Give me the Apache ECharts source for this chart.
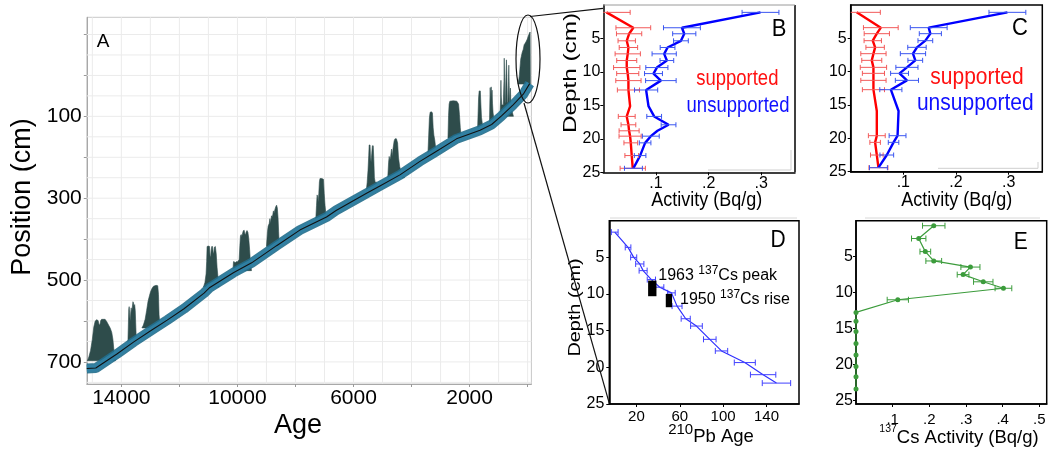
<!DOCTYPE html>
<html><head><meta charset="utf-8">
<script src="https://cdn.jsdelivr.net/npm/echarts@6/dist/echarts.min.js"></script>
<style>html,body{margin:0;padding:0;background:#fff}#c{width:1052px;height:450px}</style>
</head><body><div id="c"></div>
<script>
const FONT = '"Liberation Sans", Arial, Helvetica, sans-serif';

// ---------- Panel A : age-depth model ----------
const ageGridLines = [0,1000,2000,3000,4000,5000,6000,7000,8000,9000,10000,11000,12000,13000,14000,15000];
const posGridLines = [-100,-50,0,50,100,150,200,250,300,350,400,450,500,550,600,650,700,750];
const ageTicks = [14000,12000,10000,8000,6000,4000,2000,0];
const ageLabels = [14000,10000,6000,2000];
const posTicks = [-100,0,100,200,300,400,500,600,700];
const posLabels = [100,300,500,700];
const ageModel = [[15190,716],[14880,715],[14140,680],[13570,651],[12990,624],[12420,598],[11840,570],[11150,532],[10950,518],[10140,482],[9510,458],[8650,416],[7850,378],[6930,346],[6600,330],[5550,288],[5090,270],[4400,243],[3710,210],[3250,190],[2450,155],[1640,134],[1240,120],[900,99],[500,72],[150,46],[-70,20]];
const peak1 = [[15170,697],[15120,688],[15060,672],[15000,645],[14950,615],[14900,600],[14850,597],[14800,599],[14770,608],[14740,610],[14710,599],[14680,596],[14560,596],[14500,602],[14440,610],[14380,618],[14330,628],[14290,645],[14260,668],[14230,690],[14200,697]];
const peak2 = [[13775,655],[13760,615],[13745,572],[13730,565],[13715,580],[13700,595],[13690,600],[13675,578],[13660,568],[13645,580],[13625,568],[13600,553],[13580,556],[13560,566],[13540,560],[13520,575],[13500,615],[13480,655]];
const peak3 = [[13290,617],[13240,610],[13180,596],[13130,575],[13080,552],[13030,538],[12990,528],[12940,520],[12890,515],[12800,513],[12745,514],[12720,535],[12700,585],[12670,610],[12640,617]];
const peak4 = [[11170,517],[11120,506],[11080,485],[11060,455],[11045,418],[11000,417],[10960,418],[10945,440],[10925,445],[10905,428],[10885,418],[10860,418],[10835,432],[10815,436],[10795,420],[10760,418],[10730,436],[10700,470],[10660,500],[10630,517]];
const peak5 = [[10155,477],[10135,455],[10110,455],[10080,458],[10040,455],[9990,455],[9940,450],[9915,415],[9895,392],[9870,389],[9850,394],[9830,388],[9800,380],[9770,378],[9745,386],[9720,390],[9700,383],[9670,379],[9640,383],[9610,398],[9580,425],[9550,458],[9515,477]];
const peak6 = [[9000,418],[8965,382],[8940,368],[8905,362],[8880,350],[8860,362],[8840,350],[8825,343],[8800,346],[8780,340],[8760,331],[8735,336],[8710,328],[8680,321],[8650,317],[8625,324],[8600,348],[8580,382],[8555,418]];
const peak7 = [[7300,352],[7275,318],[7255,292],[7235,296],[7215,310],[7195,288],[7175,260],[7155,252],[7090,252],[7035,254],[7010,288],[6980,318],[6950,340],[6910,352]];
const peak8 = [[5560,282],[5530,262],[5500,232],[5475,195],[5460,170],[5430,170],[5415,200],[5395,212],[5370,190],[5350,172],[5320,172],[5300,205],[5280,250],[5250,262],[5220,260],[5190,270],[5150,282]];
const peak9 = [[4820,250],[4790,212],[4770,198],[4750,208],[4720,198],[4690,180],[4665,198],[4640,180],[4600,160],[4570,155],[4520,155],[4480,165],[4450,200],[4410,222],[4360,236],[4300,245],[4240,250]];
const peak10 = [[3435,190],[3410,148],[3385,104],[3360,90],[3310,89],[3280,92],[3255,128],[3230,146],[3200,158],[3170,176],[3130,190]];
const peak11 = [[2745,153],[2725,98],[2705,70],[2680,63],[2560,62],[2440,63],[2380,70],[2350,95],[2320,128],[2285,153]];
const peak12 = [[1725,134],[1705,88],[1690,55],[1670,38],[1630,38],[1610,72],[1590,102],[1560,118],[1530,134]];
const peak13 = [[1315,118],[1300,60],[1290,30],[1280,50],[1270,62],[1262,30],[1255,28],[1245,58],[1235,45],[1225,36],[1210,68],[1190,92],[1160,106],[1130,118]];
const peak14 = [[965,100],[945,85],[930,55],[920,12],[910,50],[890,72],[840,72],[815,15],[806,-42],[795,5],[780,65],[765,68],[745,-5],[730,-38],[715,5],[700,65],[680,68],[660,15],[648,-25],[635,25],[620,70],[605,60],[592,31],[580,62],[560,82],[520,92],[490,100]];
const peak15 = [[330,21],[300,8],[285,0],[250,-30],[237,-40],[188,-56],[150,-64],[120,-75],[80,-79],[51,-83],[10,-89],[-20,-96],[-50,-101],[-66,-104],[-85,-106],[-95,21]];
const densities = [peak1,peak2,peak3,peak4,peak5,peak6,peak7,peak8,peak9,peak10,peak11,peak12,peak13,peak14,peak15];

// ---------- Panel B ----------
const depthB  = [1.1,3.4,4.3,5.35,6.35,7.3,8.3,9.35,10.25,11.3,12.7,15.1,16.65,17.9,18.8,19.6,20.6,22.5,24.4];
const supB    = [0.006,0.057,0.049,0.0445,0.0477,0.0464,0.0445,0.0445,0.0464,0.0477,0.0477,0.0509,0.0445,0.0477,0.049,0.0509,0.0522,0.054,0.0559];
const supErrB = [0.045,0.033,0.024,0.0165,0.0175,0.024,0.019,0.025,0.021,0.024,0.021,0,0.016,0.014,0.019,0.021,0.013,0.013,0.024];
const unsB    = [0.2985,0.1493,0.1537,0.1474,0.122,0.1156,0.1207,0.1017,0.0953,0.1093,0.0813,0.0858,0.0966,0.1239,0.1029,0.0902,0.0794,0.0699,0.0572];
const unsErrB = [0.035,0.035,0.022,0.014,0.014,0.023,0.013,0.021,0.017,0.029,0.022,0,0.014,0.014,0,0.016,0.011,0.011,0.017];

// ---------- Panel C ----------
const depthC  = [1.1,3.4,4.3,5.35,6.35,7.3,8.3,9.35,10.25,11.3,12.7,15.9,19.6,20.6,22.5,24.4];
const supC    = [0.0113,0.0572,0.0496,0.0419,0.0464,0.0432,0.04,0.0432,0.0432,0.0432,0.0432,0.0496,0.0496,0.0464,0.0496,0.0527];
const supErrC = [0.045,0.033,0.024,0.0165,0.0175,0.024,0.019,0.025,0.021,0.024,0.021,0,0.016,0.01,0.012,0.018];
const unsC    = [0.2977,0.1482,0.1513,0.1418,0.1259,0.1183,0.1227,0.1068,0.0928,0.1068,0.0763,0.0909,0.0890,0.0814,0.0686,0.0527];
const unsErrC = [0.035,0.035,0.021,0.014,0.0175,0.024,0.014,0.021,0.017,0.022,0.021,0,0.016,0.01,0.013,0.017];
const actTicks = [0.1,0.2,0.3];
const depthTicks = [5,10,15,20,25];

// ---------- Panel D ----------
const depthD = [1.56,3.64,5.0,5.9,6.81,8.03,9.07,9.84,11.65,13.37,14.37,16.18,17.76,19.35,21.0,22.15];
const pbAge  = [0.0,12.3,17.5,23.1,26.2,33.8,41.5,52.3,57.5,65.5,75.4,87.7,98.5,120,136.9,149.2];
const pbErr  = [3.1,2.6,2.8,3.8,3.7,3.8,3.8,3.5,4.6,4.2,5.4,5.8,5.7,9.7,11.7,13.1];
const csMarkers = [[30.8,38.5,8.17,10.3],[47.1,52.9,9.98,11.8]];
const pbTicks = [20,60,100,140];

// ---------- Panel E ----------
const depthE = [0.70,2.48,4.3,5.6,6.45,7.5,8.5,9.4,11.0,12.76,14.0,15.4,17.1,18.7,20.3,21.7,23.4];
const csAct  = [0.212,0.171,0.189,0.212,0.312,0.292,0.347,0.402,0.114,0,0,0,0,0,0,0,0];
const csErr  = [0.0306,0.0196,0.0146,0.0215,0.026,0.016,0.0265,0.0228,0.029,0,0,0,0,0,0,0,0];
const csTicks = [0.1,0.2,0.3,0.4,0.5];

// ---------- helpers ----------
const dotFmt = v => '.' + Math.round(v * 10);
const plainFmt = v => String(v);
function errBars(color, capH, lw) {
  return function (params, api) {
    const v = api.value(0), d = api.value(1), e = api.value(2);
    if (!e) return null;
    const cs = params.coordSys;
    const a = api.coord([v - e, d]), b = api.coord([v + e, d]);
    const y = a[1];
    const st = {stroke: color, lineWidth: lw || 1};
    const x1 = Math.max(a[0], cs.x), x2 = Math.min(b[0], cs.x + cs.width);
    const ch = [{type: 'line', shape: {x1: x1, y1: y, x2: x2, y2: y}, style: st}];
    if (a[0] >= cs.x) ch.push({type: 'line', shape: {x1: a[0], y1: y - capH, x2: a[0], y2: y + capH}, style: st});
    ch.push({type: 'line', shape: {x1: b[0], y1: y - capH, x2: b[0], y2: y + capH}, style: st});
    return {type: 'group', children: ch};
  };
}
function xAx(grid, min, max, ticks, labels, size, margin, fmt, color, inverse) {
  return {gridIndex: grid, type: 'value', min: min, max: max, inverse: !!inverse,
    axisLine: {onZero: false, lineStyle: {color: color, width: color === '#000' ? 1.5 : 1}},
    axisTick: {customValues: ticks, length: 3, lineStyle: {color: color === '#000' ? '#000' : '#999'}},
    axisLabel: {customValues: labels, fontSize: size, fontFamily: FONT, color: '#000', margin: margin, formatter: fmt},
    splitLine: {show: false}, minorTick: {show: false}};
}
function yAx(grid, min, max, ticks, labels, size, margin, color) {
  return {gridIndex: grid, type: 'value', min: min, max: max, inverse: true,
    axisLine: {onZero: false, lineStyle: {color: color, width: color === '#000' ? 1.5 : 1}},
    axisTick: {customValues: ticks, length: 3, lineStyle: {color: color === '#000' ? '#000' : '#999'}},
    axisLabel: {customValues: labels, fontSize: size, fontFamily: FONT, color: '#000', margin: margin, formatter: plainFmt},
    splitLine: {show: false}};
}
function lineS(xi, data, color, width, sym) {
  return {type: 'line', xAxisIndex: xi, yAxisIndex: xi, data: data, z: 3,
    symbol: sym ? 'circle' : 'none', symbolSize: 5, showSymbol: !!sym, silent: true,
    itemStyle: {color: color}, lineStyle: {color: color, width: width}, animation: false};
}
function errS(xi, data, color, cap) {
  return {type: 'custom', xAxisIndex: xi, yAxisIndex: xi, data: data, encode: {x: 0, y: 1}, z: 4, silent: true,
    renderItem: errBars(color, cap, 1)};
}
function T(x, y, text, size, o) {
  o = o || {};
  const el = {type: 'text', x: x, y: y, z: 100, silent: true,
    style: {text: text, fontSize: size, fontFamily: FONT, fill: o.fill || '#000',
      align: o.align || 'center', verticalAlign: 'middle', textAlign: o.align || 'center', textVerticalAlign: 'middle'}};
  if (o.rich) el.style.rich = o.rich;
  if (o.rot) el.rotation = o.rot;
  if (o.sx) el.scaleX = o.sx;
  if (o.sy) el.scaleY = o.sy;
  return el;
}
function L(x1, y1, x2, y2, color, w) {
  return {type: 'line', z: 100, silent: true, shape: {x1: x1, y1: y1, x2: x2, y2: y2}, style: {stroke: color, lineWidth: w}};
}

const pair = (xs, ys) => ys.map((y, i) => [xs[i], y]);
const triple = (xs, ys, es) => ys.map((y, i) => [xs[i], y, es[i]]);

const chart = echarts.init(document.getElementById('c'), null, {renderer: 'canvas'});
const gridBase = {containLabel: false, outerBoundsMode: 'none'};
const option = {
  animation: false,
  backgroundColor: '#fff',
  grid: [
    Object.assign({left: 86.8, top: 17.3, width: 444.6, height: 366.7, show: true, borderColor: '#c8c8c8', borderWidth: 1}, gridBase),
    Object.assign({left: 603.3, top: 5, width: 191.7, height: 167.3, show: false}, gridBase),
    Object.assign({left: 850.7, top: 5, width: 191.6, height: 166.7, show: true, borderColor: '#000', borderWidth: 1.5}, gridBase),
    Object.assign({left: 609.3, top: 220.7, width: 189.7, height: 183.3, show: true, borderColor: '#000', borderWidth: 1.5}, gridBase),
    Object.assign({left: 856, top: 220.7, width: 190.7, height: 183.3, show: true, borderColor: '#000', borderWidth: 1.5}, gridBase)
  ],
  xAxis: [
    xAx(0, -130, 15190, ageTicks, ageLabels, 21, 4, plainFmt, '#a8a8a8', true),
    xAx(1, 0, 0.364, actTicks, actTicks, 16, 3, dotFmt, '#000'),
    xAx(2, 0, 0.364, actTicks, actTicks, 16, 3, dotFmt, '#000'),
    xAx(3, -5, 170, pbTicks, pbTicks, 15, 5, plainFmt, '#000'),
    xAx(4, 0, 0.52, csTicks, csTicks, 15, 8, dotFmt, '#000')
  ],
  yAxis: [
    yAx(0, -142, 754, posTicks, posLabels, 21, 5, '#a8a8a8'),
    yAx(1, 0, 25, depthTicks, depthTicks, 16, 3, '#000'),
    yAx(2, 0, 25, depthTicks, depthTicks, 16, 4, '#000'),
    yAx(3, 0, 25, depthTicks, depthTicks, 16, 5, '#000'),
    yAx(4, 0, 25.5, depthTicks, depthTicks, 16, 3, '#000')
  ],
  series: [
    // A grid lines
    {type: 'custom', xAxisIndex: 0, yAxisIndex: 0, z: 1, silent: true, data: ageGridLines.map(a => [a, 0]), encode: {x: 0, y: 1},
      renderItem: (p, api) => { const cs = p.coordSys; const c = api.coord([api.value(0), 0]);
        return {type: 'line', shape: {x1: c[0], y1: cs.y, x2: c[0], y2: cs.y + cs.height}, style: {stroke: '#ebebeb', lineWidth: 1}}; }},
    {type: 'custom', xAxisIndex: 0, yAxisIndex: 0, z: 1, silent: true, data: posGridLines.map(v => [0, v]), encode: {x: 0, y: 1},
      renderItem: (p, api) => { const cs = p.coordSys; const c = api.coord([0, api.value(1)]);
        return {type: 'line', shape: {x1: cs.x, y1: c[1], x2: cs.x + cs.width, y2: c[1]}, style: {stroke: '#ebebeb', lineWidth: 1}}; }},
    // A densities
    {type: 'custom', xAxisIndex: 0, yAxisIndex: 0, z: 2, silent: true, data: densities.map(d => [d[0][0], d[0][1]]), encode: {x: 0, y: 1},
      renderItem: (p, api) => ({type: 'polygon', shape: {points: densities[p.dataIndex].map(q => api.coord(q))}, style: {fill: '#2e4c4b', stroke: '#2e4c4b', lineWidth: 0.6}})},
    // A band + median
    {type: 'line', xAxisIndex: 0, yAxisIndex: 0, data: ageModel, z: 3, symbol: 'none', silent: true, lineStyle: {color: '#226e8c', width: 10, opacity: 0.9}},
    {type: 'line', xAxisIndex: 0, yAxisIndex: 0, data: ageModel, z: 3, symbol: 'none', silent: true, lineStyle: {color: '#3081a3', width: 7, opacity: 0.95}},
    {type: 'line', xAxisIndex: 0, yAxisIndex: 0, data: ageModel, z: 4, symbol: 'none', silent: true, lineStyle: {color: '#111', width: 1.1}},
    // B
    errS(1, triple(supB, depthB, supErrB), '#f25a5a', 2.5),
    errS(1, triple(unsB, depthB, unsErrB), '#3a55f0', 2.5),
    lineS(1, pair(supB, depthB), '#ff0000', 2.4),
    lineS(1, pair(unsB, depthB), '#0000ff', 2.4),
    // C
    errS(2, triple(supC, depthC, supErrC), '#f25a5a', 2.5),
    errS(2, triple(unsC, depthC, unsErrC), '#3a55f0', 2.5),
    lineS(2, pair(supC, depthC), '#ff0000', 2.4),
    lineS(2, pair(unsC, depthC), '#0000ff', 2.4),
    // D
    errS(3, triple(pbAge, depthD, pbErr), '#4040ff', 3),
    lineS(3, pair(pbAge, depthD), '#3030ff', 1.2),
    {type: 'custom', xAxisIndex: 3, yAxisIndex: 3, z: 5, silent: true, data: csMarkers, encode: {x: [0, 1], y: [2, 3]},
      renderItem: (p, api) => { const a = api.coord([api.value(0), api.value(2)]); const b = api.coord([api.value(1), api.value(3)]);
        return {type: 'rect', shape: {x: a[0], y: a[1], width: b[0] - a[0], height: b[1] - a[1]}, style: {fill: '#000'}}; }},
    // E
    errS(4, triple(csAct, depthE, csErr), '#3c9c3c', 3),
    lineS(4, pair(csAct, depthE), '#3c9c3c', 1.2, true)
  ],
  graphic: [
    // panel letters
    T(103, 41.7, 'A', 19),
    T(779, 29, 'B', 22, {sy: 1.1}),
    T(1020, 28, 'C', 22, {sy: 1.1}),
    T(778, 241, 'D', 21, {sy: 1.1}),
    T(1020.8, 242.5, 'E', 21, {sy: 1.1}),
    // panel A titles
    T(23, 197, 'Position (cm)', 27, {rot: Math.PI / 2}),
    T(298, 426, 'Age', 27),
    // B / C titles
    T(570.7, 73, 'Depth (cm)', 18, {rot: Math.PI / 2, sx: 1.35}),
    T(706.7, 200, 'Activity (Bq/g)', 18, {sy: 1.15}),
    T(956.7, 200, 'Activity (Bq/g)', 18, {sy: 1.15}),
    T(737.3, 79, 'supported', 18.5, {fill: '#ff1010', sy: 1.15}),
    T(738, 106, 'unsupported', 18.5, {fill: '#1010ff', sy: 1.15}),
    T(977, 77.3, 'supported', 21, {fill: '#ff1010', sy: 1.1}),
    T(975.3, 104, 'unsupported', 21, {fill: '#1010ff', sy: 1.1}),
    // D titles & notes
    T(575.8, 307.5, 'Depth (cm)', 16, {rot: Math.PI / 2, sx: 1.24}),
    T(711, 437, '{s|210}{n|Pb Age}', 18, {rich: {s: {fontSize: 15, fontFamily: FONT, verticalAlign: 'top', lineHeight: 14}, n: {fontSize: 18.5, fontFamily: FONT, lineHeight: 30}}}),
    T(658.3, 276, '{n|1963 }{s|137}{n|Cs peak}', 16, {align: 'left', rich: {s: {fontSize: 12, fontFamily: FONT, verticalAlign: 'top', lineHeight: 12}, n: {fontSize: 16, fontFamily: FONT, lineHeight: 22}}}),
    T(680, 300, '{n|1950 }{s|137}{n|Cs rise}', 16, {align: 'left', rich: {s: {fontSize: 12, fontFamily: FONT, verticalAlign: 'top', lineHeight: 12}, n: {fontSize: 16, fontFamily: FONT, lineHeight: 22}}}),
    // E title
    T(959, 438, '{s|137}{n|Cs Activity (Bq/g)}', 18, {rich: {s: {fontSize: 10.5, fontFamily: FONT, verticalAlign: 'top', lineHeight: 12}, n: {fontSize: 18.5, fontFamily: FONT, lineHeight: 28}}}),
    // zoom ellipse & connectors
    {type: 'ellipse', z: 100, silent: true, shape: {cx: 528, cy: 59, rx: 12, ry: 44}, style: {fill: 'none', stroke: '#111', lineWidth: 1.2}},
    L(530, 16.5, 603, 8.4, '#111', 1.2),
    L(524, 103, 609.3, 403.3, '#111', 1.2),
    // B frame (right black, top grey)
    L(795, 5, 795, 172.3, '#000', 1.5),
    L(603.3, 5, 795, 5, '#9a9a9a', 1),
    // faint grey artefacts
    L(708, 170, 791, 170, '#cfcfcf', 1),
    L(791, 150, 791, 170, '#cfcfcf', 1),
    L(938, 168.3, 1038, 168.3, '#cfcfcf', 1),
    L(1038, 162, 1038, 168.3, '#cfcfcf', 1),
    L(610, 218, 797, 218, '#d8d8d8', 1),
    L(865, 218, 1040, 218, '#d8d8d8', 1)
  ]
};
chart.setOption(option);
</script>
</body></html>
